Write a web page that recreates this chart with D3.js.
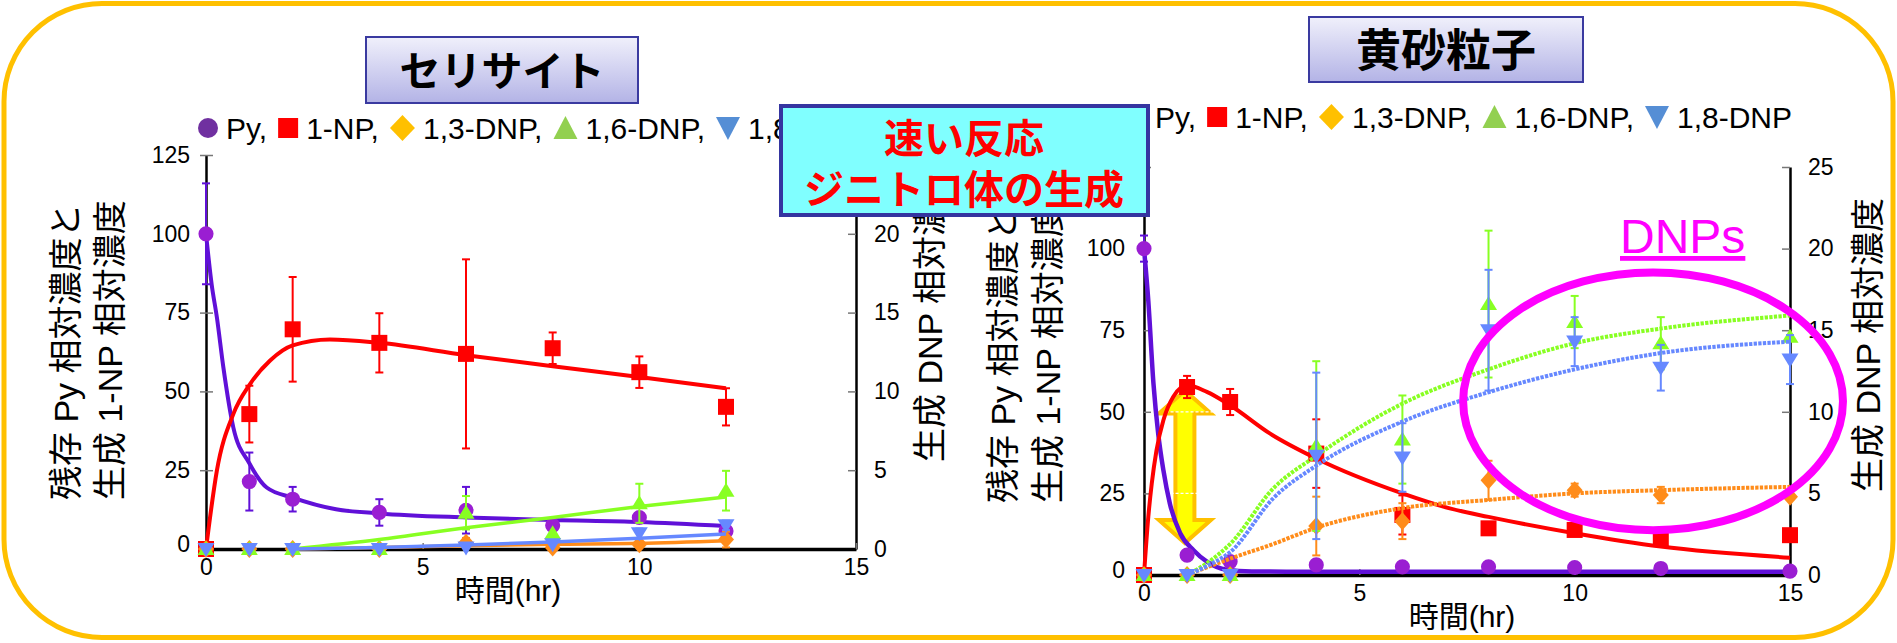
<!DOCTYPE html>
<html>
<head>
<meta charset="utf-8">
<script src="https://cdn.jsdelivr.net/npm/d3@7"></script>
<style>
  body { margin: 0; background: #fff; }
  svg text { font-family: "Liberation Sans", "Noto Sans CJK JP", sans-serif; }
</style>
</head>
<body>
<svg id="chart" width="1897" height="643"></svg>
<script>
// ---- data ----
var timesSer = [0, 1, 2, 4, 6, 8, 10, 12];
var timesKosa = [0, 1, 2, 4, 6, 8, 10, 12, 15];
var legendNames = ["Py", "1-NP", "1,3-DNP", "1,6-DNP", "1,8-DNP"];
var yTicksLeft = [0, 25, 50, 75, 100, 125];
var yTicksRight = [0, 5, 10, 15, 20, 25];
var xTicks = [0, 5, 10, 15];

// セリサイト  (Py, 1-NP on left axis; DNPs on right axis)
var serPy     = [100, 21.4, 15.8, 11.6, 12.3, 7.5, 10.0, 5.7];
var serPyErr  = [16, 9.2, 3.9, 4.2, 7.4, 0, 0, 0];
var ser1NP    = [0, 42.8, 69.7, 65.4, 61.9, 63.7, 56.1, 45.1];
var ser1NPErr = [0, 9, 16.6, 9.4, 30, 5, 5, 5.9];
var ser13     = [0, 0, 0, 0, 0.4, 0.1, 0.3, 0.6];
var ser13Err  = [0, 0, 0, 0, 0.3, 0, 0, 0.5];
var ser16     = [0, 0, 0, 0, 2.3, 1.0, 2.9, 3.7];
var ser16Err  = [0, 0, 0, 0, 1.06, 0, 1.24, 1.26];
var ser18     = [0, 0, 0, 0, 0.1, 0.3, 1.0, 1.5];
var ser18Err  = [0, 0, 0, 0, 0, 0, 0.3, 0.3];
// fitted curves [t, value]
var serFitPy  = [[0,100],[0.13,84],[0.25,73.6],[0.4,57.7],[0.63,38.6],[1,27.2],[1.4,19.5],[2,16.3],[3,12.6],[4,11.3],[6,10.0],[8,9.2],[10,8.6],[12,7.3]];
var serFit1NP = [[0,0],[0.25,24.8],[0.63,42.8],[1.02,52.4],[1.48,59.8],[2,64.6],[2.86,66.5],[4,65.4],[6,61.5],[8,58],[10,54.6],[12,51]];
var serFit13  = [[2,0],[4,0.1],[6,0.2],[8,0.3],[10,0.36],[12,0.53]];
var serFit16  = [[2,0],[4,0.6],[6,1.35],[8,2.0],[10,2.7],[12,3.3]];
var serFit18  = [[2,0],[4,0.1],[6,0.25],[8,0.45],[10,0.68],[12,0.95]];

// 黄砂粒子
var kosaPy     = [100, 6.1, 4.1, 3.1, 2.5, 2.5, 2.3, 2.0, 1.2];
var kosaPyErr  = [4, 0, 0, 0, 0, 0, 0, 0, 0];
var kosa1NP    = [0, 57.6, 53, 37.2, 18.4, 14.3, 13.8, 11.2, 12.2];
var kosa1NPErr = [0, 3.4, 4, 10.5, 6, 0, 0, 0, 0];
var kosa13     = [0, 0, 0, 3.0, 3.3, 5.8, 5.2, 4.9, 4.8];
var kosa13Err  = [0, 0, 0, 1.8, 1.1, 1.2, 0.4, 0.5, 0];
var kosa16     = [0, 0, 0, 7.9, 8.3, 16.6, 15.5, 14.2, 14.6];
var kosa16Err  = [0, 0, 0, 5.2, 2.7, 4.5, 1.6, 1.6, 0];
var kosa18     = [0, 0, 0, 7.3, 7.2, 15.0, 14.3, 12.7, 13.2];
var kosa18Err  = [0, 0, 0, 5.1, 2.1, 3.7, 1.5, 1.4, 1.5];
var kosaFitPy  = [[0,100],[0.1,84],[0.22,58.6],[0.33,43.3],[0.45,32.1],[0.6,21.9],[0.84,12.8],[1.15,7.6],[1.46,4.1],[1.92,1.6],[2.5,1.1],[4,1],[8,1],[12,1],[15,1]];
var kosaFit1NP = [[0,0],[0.1,17.8],[0.18,28],[0.29,38.2],[0.45,47.4],[0.68,54.6],[1.0,58.1],[1.46,56.1],[2,52],[2.93,43.3],[4,35.7],[6,25],[7.1,20.4],[8,17.8],[10,12.8],[12,8.7],[15,5.3]];
var kosaFit13  = [[1,0],[2,1.0],[3,1.9],[4,2.9],[6,4.1],[8,4.6],[10,5.0],[12,5.2],[15,5.4]];
var kosaFit16  = [[1,0],[1.5,0.8],[2,1.9],[3,5.3],[4,7.3],[6,10.5],[8,12.6],[10,14.2],[12,15.1],[15,15.9]];
var kosaFit18  = [[1,0],[1.5,0.6],[2,1.4],[3,4.7],[4,6.7],[6,9.4],[8,11.2],[10,12.6],[12,13.6],[15,14.3]];

var svg = d3.select("#chart");

// outer rounded frame
svg.append("rect")
  .attr("x", 4).attr("y", 3.5).attr("width", 1889).attr("height", 634)
  .attr("rx", 98).attr("ry", 98)
  .attr("fill", "none").attr("stroke", "#ffc000").attr("stroke-width", 5);

function markerPath(kind) {
  if (kind == "square") return "M-8,-8h16v16h-16Z";
  if (kind == "diamond") return "M0,-9L8,0L0,9L-8,0Z";
  if (kind == "up") return "M0,-8L8.5,6L-8.5,6Z";
  if (kind == "down") return "M0,8L8.5,-6L-8.5,-6Z";
  return d3.symbol(d3.symbolCircle, 180)();
}

function drawPanel(p) {
  var g = svg.append("g");

  // axes
  var yAx = g.append("g").attr("transform", "translate(" + p.x(0) + ",0)")
    .call(d3.axisLeft(p.y).tickValues(yTicksLeft).tickSizeInner(-7).tickSizeOuter(0).tickPadding(p.padL));
  var y2Ax = g.append("g").attr("transform", "translate(" + p.x(15) + ",0)")
    .call(d3.axisRight(p.y2).tickValues(yTicksRight).tickSizeInner(-8).tickSizeOuter(0).tickPadding(18));
  var xAx = g.append("g").attr("transform", "translate(0," + p.y(0) + ")")
    .call(d3.axisBottom(p.x).tickValues(xTicks).tickSizeInner(-6).tickSizeOuter(0).tickPadding(10));
  [yAx, y2Ax, xAx].forEach(function(a) {
    a.attr("font-family", null).attr("font-size", 23);
    a.selectAll("text").attr("fill", "#000");
    a.selectAll(".tick line").attr("stroke", "#777").attr("stroke-width", 1.5);
    a.select(".domain").attr("stroke", "#000").attr("stroke-width", 2.5);
  });
  xAx.select(".domain").attr("stroke-width", 3.5);
  if (p.crossTicks) yAx.selectAll(".tick line").attr("x1", -6).attr("x2", 7);
  yAx.selectAll(".tick").filter(function(d) { return d == 0; }).select("text").attr("dy", "0.1em");

  // axis titles
  p.yTitles.forEach(function(t) {
    g.append("text").attr("transform", "translate(" + t[0] + "," + t[1] + ") rotate(-90)")
      .attr("dominant-baseline", "central").attr("font-size", 34).text(t[2]);
  });
  g.append("text").attr("x", p.xTitle[0]).attr("y", p.xTitle[1])
    .attr("text-anchor", "middle").attr("dominant-baseline", "central")
    .attr("font-size", 30).text("時間(hr)");

  if (p.before) p.before(g);

  p.series.forEach(function(s) {
    var y = s.right ? p.y2 : p.y;
    var line = d3.line().x(function(d) { return p.x(d[0]); }).y(function(d) { return y(d[1]); })
      .curve(d3.curveMonotoneX);
    g.append("path").datum(s.fit).attr("d", line)
      .attr("fill", "none").attr("stroke", s.lineColor).attr("stroke-width", s.width)
      .attr("stroke-dasharray", s.dash || null).attr("stroke-linejoin", "round");

    var pts = p.times.map(function(t, i) { return { t: t, v: s.vals[i], e: s.errs[i] }; });
    var eb = g.append("g").attr("stroke", s.lineColor).attr("stroke-width", 2);
    pts.filter(function(d) { return d.e > 0; }).forEach(function(d) {
      var cx = p.x(d.t), y1 = y(d.v + d.e), y0 = y(Math.max(d.v - d.e, -1));
      eb.append("line").attr("x1", cx).attr("x2", cx).attr("y1", y1).attr("y2", y0);
      eb.append("line").attr("x1", cx - 4).attr("x2", cx + 4).attr("y1", y1).attr("y2", y1);
      eb.append("line").attr("x1", cx - 4).attr("x2", cx + 4).attr("y1", y0).attr("y2", y0);
    });
    g.append("g").selectAll("path").data(pts).enter().append("path")
      .attr("transform", function(d) { return "translate(" + p.x(d.t) + "," + y(d.v) + ")"; })
      .attr("d", markerPath(s.marker)).attr("fill", s.markColor);
  });

  if (p.after) p.after(g);
}

function legend(x0, baseline) {
  var kinds = ["circle", "square", "diamond", "up", "down"];
  var cols = ["#7030a0", "#ff0000", "#ffc000", "#92d050", "#558ed5"];
  var sizes = {circle: 10, square: 10, diamond: 12.5, up: 12, down: 12};
  var cur = x0, cy = baseline - 11;
  kinds.forEach(function(k, i) {
    var h = sizes[k], shape;
    if (k == "circle") shape = svg.append("circle").attr("r", h).attr("cx", cur).attr("cy", cy);
    else {
      var d = k == "square" ? "M-10,-10h20v20h-20Z"
            : k == "diamond" ? "M0,-13L12.5,0L0,13L-12.5,0Z"
            : k == "up" ? "M0,-12L12,11L-12,11Z" : "M0,12L12,-11L-12,-11Z";
      shape = svg.append("path").attr("d", d).attr("transform", "translate(" + cur + "," + cy + ")");
    }
    shape.attr("fill", cols[i]);
    var tx = cur + h + 8;
    var t = svg.append("text").attr("x", tx).attr("y", baseline).attr("font-size", 30)
      .text(legendNames[i] + (i < kinds.length - 1 ? "," : ""));
    var w = t.node().getComputedTextLength();
    var nh = i < kinds.length - 1 ? sizes[kinds[i + 1]] : 0;
    cur = tx + w + 11 + nh;
  });
}

// ---- left panel: セリサイト ----
var xL = d3.scaleLinear().domain([0, 15]).range([206, 856]);
var yL = d3.scaleLinear().domain([0, 125]).range([549, 155]);
var yL2 = d3.scaleLinear().domain([0, 25]).range([549, 155]);

drawPanel({
  x: xL, y: yL, y2: yL2, times: timesSer, padL: 16, crossTicks: true,
  yTitles: [[66, 500, "残存 Py 相対濃度と"], [110, 500, "生成 1-NP 相対濃度"], [930, 462, "生成 DNP 相対濃度"]],
  xTitle: [508, 590],
  series: [
    {vals: serPy, errs: serPyErr, fit: serFitPy, lineColor: "#6010d8", markColor: "#9a1ed2", marker: "circle", width: 4},
    {vals: ser1NP, errs: ser1NPErr, fit: serFit1NP, lineColor: "#ff0000", markColor: "#ff0000", marker: "square", width: 4},
    {vals: ser13, errs: ser13Err, fit: serFit13, lineColor: "#ff8c1a", markColor: "#ff8c1a", marker: "diamond", width: 3.5, right: true},
    {vals: ser16, errs: ser16Err, fit: serFit16, lineColor: "#88ff22", markColor: "#88ff22", marker: "up", width: 3.5, right: true},
    {vals: ser18, errs: ser18Err, fit: serFit18, lineColor: "#6688ff", markColor: "#6688ff", marker: "down", width: 3.5, right: true}
  ]
});

// ---- right panel: 黄砂粒子 ----
var xR = d3.scaleLinear().domain([0, 15]).range([1144, 1790]);
var yR = d3.scaleLinear().domain([0, 125]).range([575, 167]);
var yR2 = d3.scaleLinear().domain([0, 25]).range([575, 167]);

drawPanel({
  x: xR, y: yR, y2: yR2, times: timesKosa, padL: 19, crossTicks: false,
  yTitles: [[1003, 503, "残存 Py 相対濃度と"], [1048, 503, "生成 1-NP 相対濃度"], [1868, 492, "生成 DNP 相対濃度"]],
  xTitle: [1462, 616],
  before: function(g) {
    // yellow double arrow
    var cx = xR(0.95), yt = yR(56.5), yb = yR(9.8);
    var hw = 26, hh = 23, sw = 9.5;
    g.append("path")
      .attr("d", "M" + cx + "," + yt + "L" + (cx + hw) + "," + (yt + hh) + "L" + (cx + sw) + "," + (yt + hh) +
        "L" + (cx + sw) + "," + (yb - hh) + "L" + (cx + hw) + "," + (yb - hh) + "L" + cx + "," + yb +
        "L" + (cx - hw) + "," + (yb - hh) + "L" + (cx - sw) + "," + (yb - hh) + "L" + (cx - sw) + "," + (yt + hh) +
        "L" + (cx - hw) + "," + (yt + hh) + "Z")
      .attr("fill", "#ffff00").attr("stroke", "#ffc000").attr("stroke-width", 4).attr("stroke-linejoin", "miter");
    [50, 25].forEach(function(v) {
      g.append("line").attr("x1", xR(0.5)).attr("x2", xR(1.6)).attr("y1", yR(v)).attr("y2", yR(v))
        .attr("stroke", "#fff").attr("stroke-width", 1.2).attr("stroke-dasharray", "3,2");
    });
  },
  after: function(g) {
    // DNPs ellipse
    g.append("ellipse").attr("cx", xR(11.82)).attr("cy", yR(53.2))
      .attr("rx", xR(4.41) - xR(0)).attr("ry", yR(0) - yR(39.5))
      .attr("fill", "none").attr("stroke", "#ff00ff").attr("stroke-width", 8);
    g.append("text").attr("x", 1620).attr("y", 253).attr("font-size", 48)
      .attr("fill", "#ff00ff").attr("text-decoration", "underline").text("DNPs");
  },
  series: [
    {vals: kosaPy, errs: kosaPyErr, fit: kosaFitPy, lineColor: "#6010d8", markColor: "#9a1ed2", marker: "circle", width: 4.5},
    {vals: kosa1NP, errs: kosa1NPErr, fit: kosaFit1NP, lineColor: "#ff0000", markColor: "#ff0000", marker: "square", width: 4},
    {vals: kosa13, errs: kosa13Err, fit: kosaFit13, lineColor: "#ff8c1a", markColor: "#ff8c1a", marker: "diamond", width: 4, dash: "3.3,1.3", right: true},
    {vals: kosa16, errs: kosa16Err, fit: kosaFit16, lineColor: "#88ff22", markColor: "#88ff22", marker: "up", width: 4, dash: "3.3,1.3", right: true},
    {vals: kosa18, errs: kosa18Err, fit: kosaFit18, lineColor: "#6688ff", markColor: "#6688ff", marker: "down", width: 4, dash: "3.3,1.3", right: true}
  ]
});

// legends
legend(208, 139);
legend(1137, 128);

// title boxes
var grad = svg.append("defs").append("linearGradient").attr("id", "tb").attr("x1", 0).attr("y1", 0).attr("x2", 0).attr("y2", 1);
grad.append("stop").attr("offset", "0%").attr("stop-color", "#f0f0fb");
grad.append("stop").attr("offset", "100%").attr("stop-color", "#b3b3e6");

function titleBox(x, y, w, h, label, fs) {
  svg.append("rect").attr("x", x).attr("y", y).attr("width", w).attr("height", h)
    .attr("fill", "url(#tb)").attr("stroke", "#3a3aa0").attr("stroke-width", 2);
  svg.append("text").attr("x", x + w / 2).attr("y", y + h / 2 + 2)
    .attr("text-anchor", "middle").attr("dominant-baseline", "central")
    .attr("font-size", fs).attr("font-weight", "bold").attr("fill", "#000").text(label);
}
titleBox(366, 37, 272, 66, "セリサイト", 41);
titleBox(1309, 17, 274, 65, "黄砂粒子", 45);

// cyan call-out box
svg.append("rect").attr("x", 781).attr("y", 106).attr("width", 367).attr("height", 109)
  .attr("fill", "#80ffff").attr("stroke", "#3535a0").attr("stroke-width", 4);
[["速い反応", 139], ["ジニトロ体の生成", 190]].forEach(function(l) {
  svg.append("text").attr("x", 964).attr("y", l[1]).attr("text-anchor", "middle")
    .attr("dominant-baseline", "central").attr("font-size", 40).attr("font-weight", "bold")
    .attr("fill", "#ff0000").text(l[0]);
});
</script>
</body>
</html>
